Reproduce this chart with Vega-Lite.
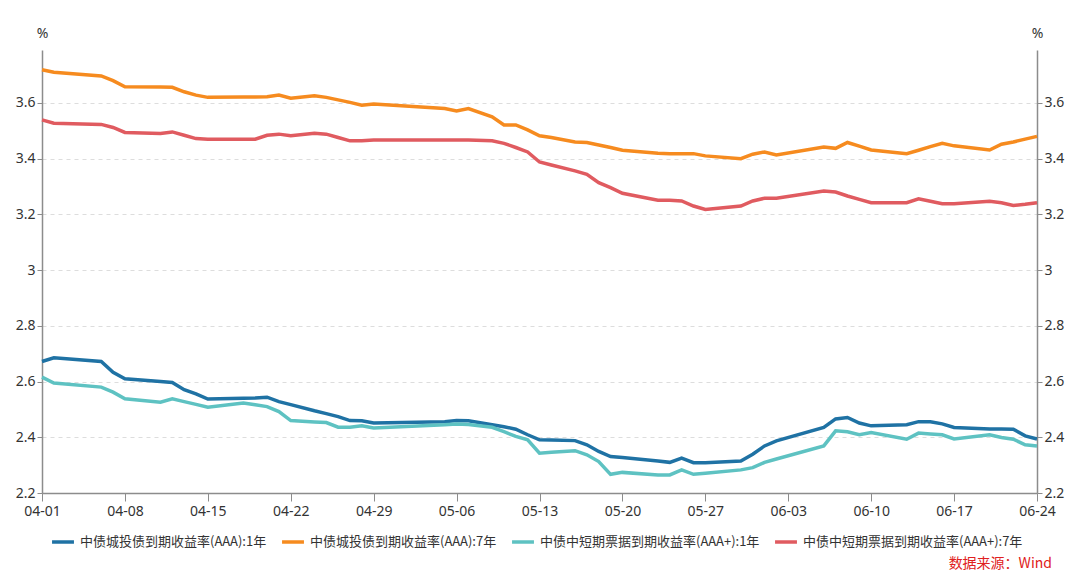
{
  "$schema": "https://vega.github.io/schema/vega-lite/v6.json",
  "width": 995,
  "height": 443,
  "autosize": {"type": "none"},
  "padding": {"left": 42, "top": 50, "right": 43, "bottom": 85},
  "background": "white",
  "config": {
    "view": {"stroke": null},
    "font": "Noto Sans CJK SC"
  },
  "title": {
    "text": "数据来源：Wind",
    "orient": "bottom",
    "anchor": "end",
    "frame": "group",
    "color": "#e02020",
    "fontSize": 14,
    "fontWeight": "normal",
    "font": "Noto Sans CJK SC",
    "offset": 8,
    "dx": 15
  },
  "data": {
    "values": [
      {"date": "2024/04/01", "c1": 2.672, "c7": 3.719, "p1": 2.616, "p7": 3.539},
      {"date": "2024/04/02", "c1": 2.685, "c7": 3.710, "p1": 2.595, "p7": 3.527},
      {"date": "2024/04/06", "c1": 2.672, "c7": 3.697, "p1": 2.580, "p7": 3.523},
      {"date": "2024/04/07", "c1": 2.633, "c7": 3.680, "p1": 2.562, "p7": 3.512},
      {"date": "2024/04/08", "c1": 2.610, "c7": 3.658, "p1": 2.538, "p7": 3.494},
      {"date": "2024/04/11", "c1": 2.600, "c7": 3.657, "p1": 2.526, "p7": 3.490},
      {"date": "2024/04/12", "c1": 2.597, "c7": 3.656, "p1": 2.538, "p7": 3.496},
      {"date": "2024/04/13", "c1": 2.571, "c7": 3.640, "p1": 2.528, "p7": 3.484},
      {"date": "2024/04/14", "c1": 2.556, "c7": 3.628, "p1": 2.518, "p7": 3.472},
      {"date": "2024/04/15", "c1": 2.537, "c7": 3.620, "p1": 2.508, "p7": 3.470},
      {"date": "2024/04/18", "c1": 2.540, "c7": 3.621, "p1": 2.523, "p7": 3.470},
      {"date": "2024/04/19", "c1": 2.541, "c7": 3.621, "p1": 2.517, "p7": 3.470},
      {"date": "2024/04/20", "c1": 2.544, "c7": 3.622, "p1": 2.510, "p7": 3.484},
      {"date": "2024/04/21", "c1": 2.528, "c7": 3.628, "p1": 2.492, "p7": 3.488},
      {"date": "2024/04/22", "c1": 2.517, "c7": 3.617, "p1": 2.460, "p7": 3.482},
      {"date": "2024/04/24", "c1": 2.495, "c7": 3.626, "p1": 2.455, "p7": 3.491},
      {"date": "2024/04/25", "c1": 2.485, "c7": 3.620, "p1": 2.453, "p7": 3.488},
      {"date": "2024/04/26", "c1": 2.474, "c7": 3.611, "p1": 2.436, "p7": 3.476},
      {"date": "2024/04/27", "c1": 2.460, "c7": 3.602, "p1": 2.436, "p7": 3.464},
      {"date": "2024/04/28", "c1": 2.459, "c7": 3.592, "p1": 2.441, "p7": 3.464},
      {"date": "2024/04/29", "c1": 2.451, "c7": 3.596, "p1": 2.433, "p7": 3.467},
      {"date": "2024/05/05", "c1": 2.456, "c7": 3.580, "p1": 2.445, "p7": 3.467},
      {"date": "2024/05/06", "c1": 2.460, "c7": 3.571, "p1": 2.448, "p7": 3.467},
      {"date": "2024/05/07", "c1": 2.459, "c7": 3.580, "p1": 2.446, "p7": 3.467},
      {"date": "2024/05/09", "c1": 2.445, "c7": 3.550, "p1": 2.436, "p7": 3.464},
      {"date": "2024/05/10", "c1": 2.438, "c7": 3.521, "p1": 2.420, "p7": 3.455},
      {"date": "2024/05/11", "c1": 2.429, "c7": 3.521, "p1": 2.403, "p7": 3.440},
      {"date": "2024/05/12", "c1": 2.409, "c7": 3.503, "p1": 2.391, "p7": 3.424},
      {"date": "2024/05/13", "c1": 2.391, "c7": 3.482, "p1": 2.343, "p7": 3.388},
      {"date": "2024/05/14", "c1": 2.390, "c7": 3.476, "p1": 2.346, "p7": 3.377},
      {"date": "2024/05/16", "c1": 2.388, "c7": 3.460, "p1": 2.352, "p7": 3.356},
      {"date": "2024/05/17", "c1": 2.373, "c7": 3.458, "p1": 2.337, "p7": 3.344},
      {"date": "2024/05/18", "c1": 2.349, "c7": 3.449, "p1": 2.313, "p7": 3.314},
      {"date": "2024/05/19", "c1": 2.331, "c7": 3.440, "p1": 2.267, "p7": 3.296},
      {"date": "2024/05/20", "c1": 2.327, "c7": 3.430, "p1": 2.274, "p7": 3.276},
      {"date": "2024/05/23", "c1": 2.315, "c7": 3.419, "p1": 2.265, "p7": 3.251},
      {"date": "2024/05/24", "c1": 2.310, "c7": 3.418, "p1": 2.265, "p7": 3.251},
      {"date": "2024/05/25", "c1": 2.325, "c7": 3.418, "p1": 2.283, "p7": 3.248},
      {"date": "2024/05/26", "c1": 2.309, "c7": 3.418, "p1": 2.267, "p7": 3.230},
      {"date": "2024/05/27", "c1": 2.309, "c7": 3.410, "p1": 2.271, "p7": 3.218},
      {"date": "2024/05/30", "c1": 2.315, "c7": 3.400, "p1": 2.283, "p7": 3.230},
      {"date": "2024/05/31", "c1": 2.339, "c7": 3.416, "p1": 2.291, "p7": 3.248},
      {"date": "2024/06/01", "c1": 2.369, "c7": 3.424, "p1": 2.310, "p7": 3.258},
      {"date": "2024/06/02", "c1": 2.387, "c7": 3.413, "p1": 2.322, "p7": 3.258},
      {"date": "2024/06/06", "c1": 2.435, "c7": 3.442, "p1": 2.369, "p7": 3.284},
      {"date": "2024/06/07", "c1": 2.466, "c7": 3.437, "p1": 2.423, "p7": 3.280},
      {"date": "2024/06/08", "c1": 2.471, "c7": 3.458, "p1": 2.420, "p7": 3.266},
      {"date": "2024/06/09", "c1": 2.451, "c7": 3.445, "p1": 2.409, "p7": 3.254},
      {"date": "2024/06/10", "c1": 2.441, "c7": 3.431, "p1": 2.417, "p7": 3.242},
      {"date": "2024/06/13", "c1": 2.445, "c7": 3.418, "p1": 2.393, "p7": 3.242},
      {"date": "2024/06/14", "c1": 2.456, "c7": 3.430, "p1": 2.415, "p7": 3.256},
      {"date": "2024/06/15", "c1": 2.456, "c7": 3.443, "p1": 2.412, "p7": 3.247},
      {"date": "2024/06/16", "c1": 2.448, "c7": 3.455, "p1": 2.409, "p7": 3.238},
      {"date": "2024/06/17", "c1": 2.435, "c7": 3.446, "p1": 2.394, "p7": 3.238},
      {"date": "2024/06/20", "c1": 2.430, "c7": 3.431, "p1": 2.409, "p7": 3.247},
      {"date": "2024/06/21", "c1": 2.430, "c7": 3.452, "p1": 2.399, "p7": 3.242},
      {"date": "2024/06/22", "c1": 2.429, "c7": 3.460, "p1": 2.393, "p7": 3.232},
      {"date": "2024/06/23", "c1": 2.405, "c7": 3.470, "p1": 2.373, "p7": 3.236},
      {"date": "2024/06/24", "c1": 2.394, "c7": 3.480, "p1": 2.369, "p7": 3.242}
    ]
  },
  "transform": [
    {"fold": ["c1", "c7", "p1", "p7"], "as": ["series", "value"]}
  ],
  "encoding": {
    "x": {
      "field": "date",
      "type": "temporal",
      "title": null,
      "scale": {
        "domain": [
          {"year": 2024, "month": 4, "date": 1},
          {"year": 2024, "month": 6, "date": 24}
        ]
      },
      "axis": {
        "values": [
          {"year": 2024, "month": 4, "date": 1},
          {"year": 2024, "month": 4, "date": 8},
          {"year": 2024, "month": 4, "date": 15},
          {"year": 2024, "month": 4, "date": 22},
          {"year": 2024, "month": 4, "date": 29},
          {"year": 2024, "month": 5, "date": 6},
          {"year": 2024, "month": 5, "date": 13},
          {"year": 2024, "month": 5, "date": 20},
          {"year": 2024, "month": 5, "date": 27},
          {"year": 2024, "month": 6, "date": 3},
          {"year": 2024, "month": 6, "date": 10},
          {"year": 2024, "month": 6, "date": 17},
          {"year": 2024, "month": 6, "date": 24}
        ],
        "format": "%m-%d",
        "grid": false,
        "domainColor": "#8c8c8c",
        "domainWidth": 1.5,
        "tickColor": "#8c8c8c",
        "tickSize": 8,
        "tickWidth": 1,
        "labelFont": "Noto Sans",
        "labelFontSize": 14,
        "labelColor": "#333333",
        "labelPadding": 3,
        "labelFlush": false,
        "labelOverlap": false
      }
    }
  },
  "layer": [
    {
      "mark": {"type": "line", "strokeWidth": 3.5, "interpolate": "linear"},
      "encoding": {
        "y": {
          "field": "value",
          "type": "quantitative",
          "title": "%",
          "scale": {"domain": [2.2, 3.79], "nice": false, "zero": false},
          "axis": {
            "orient": "left",
            "values": [2.2, 2.4, 2.6, 2.8, 3.0, 3.2, 3.4, 3.6],
            "format": "~g",
            "grid": true,
            "gridDash": [4, 4],
            "gridColor": "#dddddd",
            "gridWidth": 1,
            "domainColor": "#8c8c8c",
            "domainWidth": 1.5,
            "tickColor": "#8c8c8c",
            "tickSize": 5,
            "labelFont": "Noto Sans",
            "labelFontSize": 14,
            "labelColor": "#333333",
            "labelPadding": 2,
            "titleAngle": 0,
            "titleX": 0,
            "titleY": -17,
            "titleAlign": "center",
            "titleBaseline": "middle",
            "titleFont": "Noto Sans",
            "titleFontSize": 14,
            "titleFontWeight": "normal",
            "titleColor": "#333333"
          }
        },
        "color": {
          "field": "series",
          "type": "nominal",
          "scale": {
            "domain": ["c1", "c7", "p1", "p7"],
            "range": ["#1f72a4", "#f68b1f", "#5ec2c2", "#e05b60"]
          },
          "legend": {
            "title": null,
            "orient": "none",
            "legendX": 8,
            "legendY": 479,
            "direction": "horizontal",
            "symbolType": "stroke",
            "symbolSize": 480,
            "symbolStrokeWidth": 3.5,
            "labelFont": "Noto Sans CJK SC",
            "labelFontSize": 13,
            "labelColor": "#333333",
            "labelOffset": 4,
            "columnPadding": 8,
            "labelLimit": 400,
            "labelExpr": "datum.label == 'c1' ? '中债城投债到期收益率(AAA):1年' : datum.label == 'c7' ? '中债城投债到期收益率(AAA):7年' : datum.label == 'p1' ? '中债中短期票据到期收益率(AAA+):1年' : '中债中短期票据到期收益率(AAA+):7年'"
          }
        }
      }
    },
    {
      "mark": {"type": "line", "opacity": 0},
      "encoding": {
        "y": {
          "field": "value",
          "type": "quantitative",
          "title": "%",
          "scale": {"domain": [2.2, 3.79], "nice": false, "zero": false},
          "axis": {
            "orient": "right",
            "values": [2.2, 2.4, 2.6, 2.8, 3.0, 3.2, 3.4, 3.6],
            "format": "~g",
            "grid": false,
            "domainColor": "#8c8c8c",
            "domainWidth": 1.5,
            "tickColor": "#8c8c8c",
            "tickSize": 5,
            "labelFont": "Noto Sans",
            "labelFontSize": 14,
            "labelColor": "#333333",
            "labelPadding": 2,
            "titleAngle": 0,
            "titleX": 0,
            "titleY": -17,
            "titleAlign": "center",
            "titleBaseline": "middle",
            "titleFont": "Noto Sans",
            "titleFontSize": 14,
            "titleFontWeight": "normal",
            "titleColor": "#333333"
          }
        },
        "detail": {"field": "series", "type": "nominal"}
      }
    }
  ],
  "resolve": {"axis": {"y": "independent"}}
}
